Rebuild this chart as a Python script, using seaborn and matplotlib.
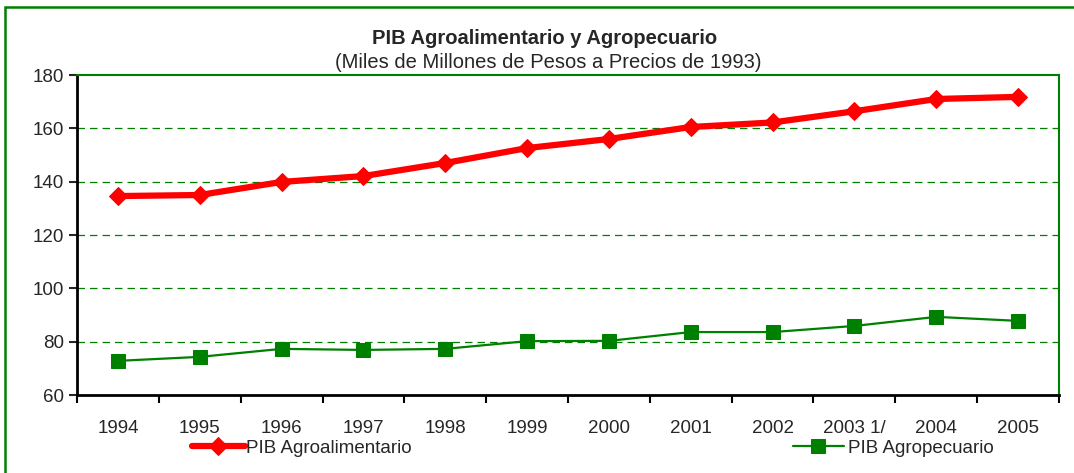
import matplotlib
matplotlib.use("Agg")
import matplotlib.pyplot as plt
import matplotlib.patches as mpatches
import pandas as pd
import seaborn as sns

years = ["1994", "1995", "1996", "1997", "1998", "1999",
         "2000", "2001", "2002", "2003 1/", "2004", "2005"]
agroalimentario = [134.6, 135.0, 139.9, 142.1, 147.0, 152.6,
                   156.0, 160.5, 162.2, 166.4, 171.0, 171.8]
agropecuario = [72.8, 74.3, 77.3, 76.9, 77.3, 80.2,
                80.3, 83.6, 83.6, 85.9, 89.3, 87.8]

GREEN = "#008000"
RED = "#ff0000"

sns.set_style("white")
plt.rcParams["font.family"] = ["Liberation Sans", "DejaVu Sans"]

df = pd.DataFrame({"year": years, "alim": agroalimentario, "pec": agropecuario})
df["pos"] = range(len(df))

fig = plt.figure(figsize=(10.74, 4.73), dpi=100)
ax = fig.add_axes([77 / 1074, 1 - 395 / 473, (1059 - 77) / 1074, (395 - 75) / 473])

sns.lineplot(data=df, x="pos", y="alim", ax=ax, color=RED, linewidth=4.5,
             marker="D", markersize=9.5, markeredgecolor=RED, label="PIB Agroalimentario")
sns.lineplot(data=df, x="pos", y="pec", ax=ax, color=GREEN, linewidth=1.6,
             marker="s", markersize=10, markeredgecolor=GREEN, label="PIB Agropecuario")

ax.set_xlim(-0.5, len(years) - 0.5)
ax.set_ylim(60, 180)
ax.set_yticks(range(60, 181, 20))
ax.set_xticks([i + 0.5 for i in range(-1, len(years))], minor=False)
ax.set_xticklabels([])
ax.set_xticks(range(len(years)), minor=True)
ax.set_xticklabels(years, minor=True)
ax.tick_params(axis="x", which="major", length=6, width=1.5, direction="out", bottom=True, colors="black")
ax.tick_params(axis="x", which="minor", length=0, pad=18, labelsize=13.5)
ax.tick_params(axis="y", length=6, width=1.5, direction="out", left=True, labelsize=13.5)
ax.set_xlabel("")
ax.set_ylabel("")

for y in range(80, 180, 20):
    ax.axhline(y, color=GREEN, linestyle=(0, (6, 4)), linewidth=0.9, zorder=0)

ax.spines["left"].set_color("black")
ax.spines["left"].set_linewidth(2)
ax.spines["bottom"].set_color("black")
ax.spines["bottom"].set_linewidth(2)
ax.spines["top"].set_color(GREEN)
ax.spines["top"].set_linewidth(1.5)
ax.spines["right"].set_color(GREEN)
ax.spines["right"].set_linewidth(1.5)

# two legend entries set far apart, like the original
handles, labels = ax.get_legend_handles_labels()
ax.get_legend().remove()
fig.legend(handles[:1], labels[:1], loc="center left", bbox_to_anchor=(192 / 1074, 1 - 448 / 473),
           frameon=False, fontsize=13.5, handlelength=2.8, handletextpad=0.1,
           borderpad=0, borderaxespad=0)
fig.legend(handles[1:], labels[1:], loc="center left", bbox_to_anchor=(793 / 1074, 1 - 448 / 473),
           frameon=False, fontsize=13.5, handlelength=2.7, handletextpad=0.25,
           borderpad=0, borderaxespad=0)

fig.text(545 / 1074, 1 - 38 / 473, "PIB Agroalimentario y Agropecuario",
         ha="center", va="center", fontsize=14.5, fontweight="bold")
fig.text(548 / 1074, 1 - 62 / 473, "(Miles de Millones de Pesos a Precios de 1993)",
         ha="center", va="center", fontsize=14.5)

frame = mpatches.Rectangle((5 / 1074, -0.1), 1.2, 1.1 - 7 / 473, transform=fig.transFigure,
                           fill=False, edgecolor=GREEN, linewidth=1.8, clip_on=False)
fig.patches.append(frame)

fig.savefig("out.png", dpi=100)
